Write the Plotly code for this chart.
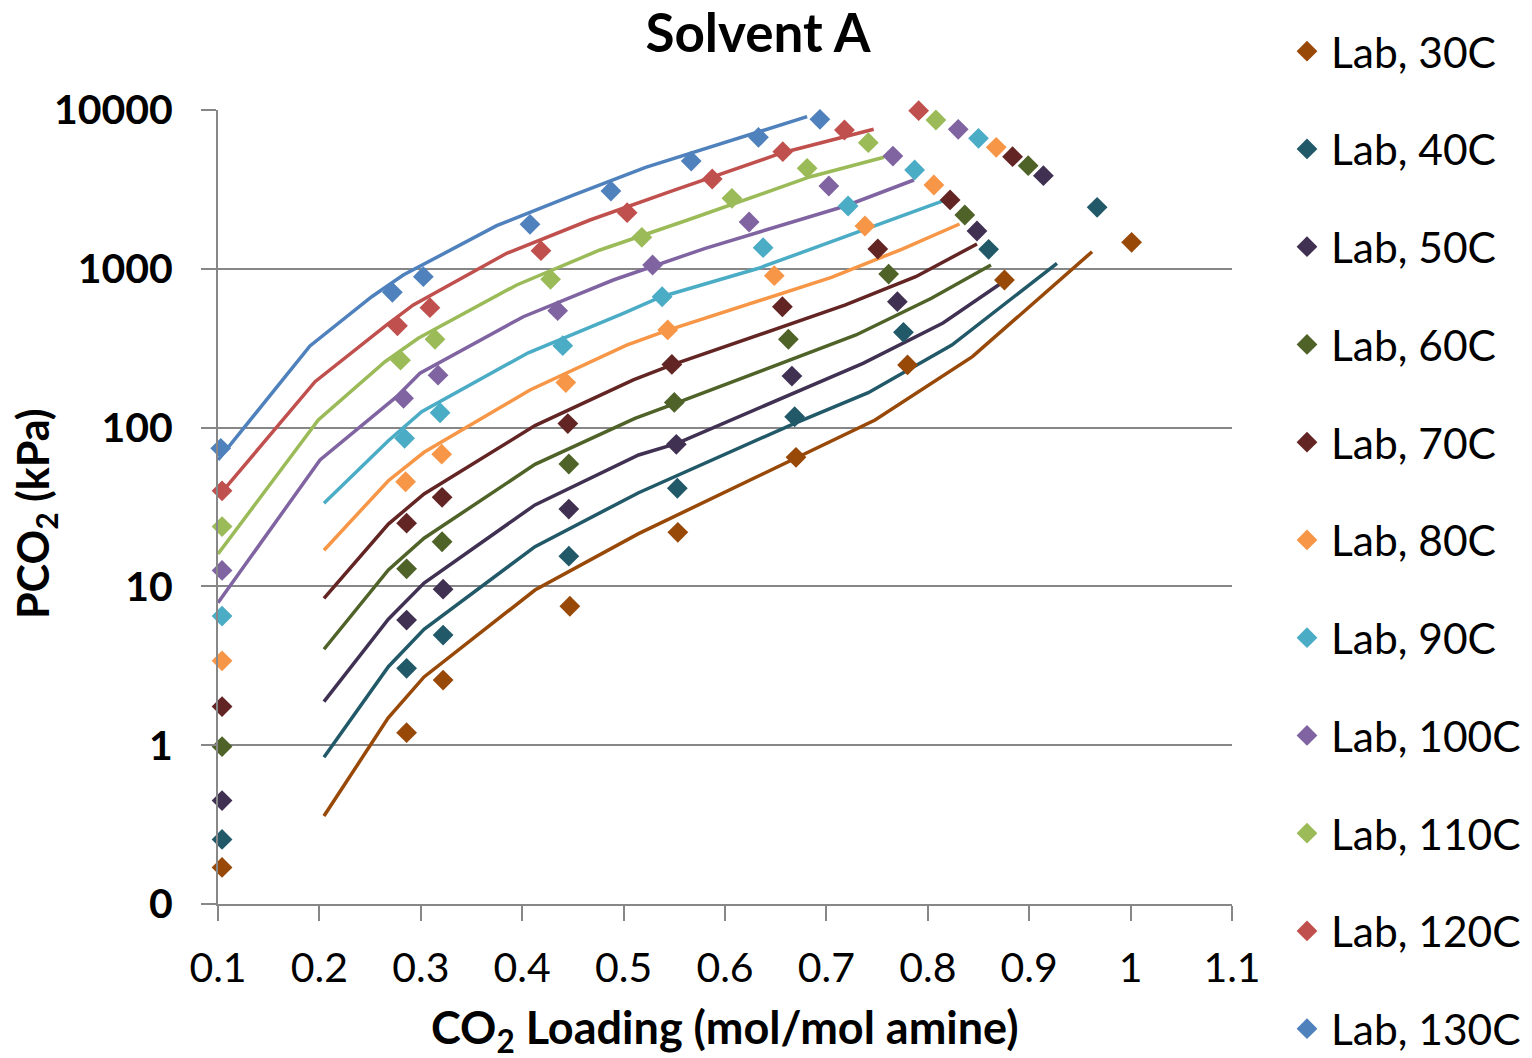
import plotly.graph_objects as go

# ---------------- data ----------------
temps = ["30C", "40C", "50C", "60C", "70C", "80C", "90C", "100C", "110C", "120C", "130C"]
colors = ["#984807", "#215968", "#403152", "#4F6228", "#632523", "#F79646",
          "#4BACC6", "#8064A2", "#9BBB59", "#C0504D", "#4F81BD"]

# Lab (measured) points
lab_x_30 = [0.104, 0.286, 0.322, 0.447, 0.5535, 0.670, 0.780, 0.8756, 1.001]
lab_y_30 = [0.170, 1.2, 2.57, 7.5, 21.9, 65, 248, 850, 1469]
lab_x_40 = [0.104, 0.286, 0.322, 0.446, 0.553, 0.6687, 0.776, 0.860, 0.967]
lab_y_40 = [0.255, 3.05, 4.94, 15.5, 41.5, 117, 398, 1327, 2440]
lab_x_50 = [0.104, 0.286, 0.322, 0.446, 0.552, 0.666, 0.770, 0.8485, 0.914]
lab_y_50 = [0.448, 6.14, 9.6, 30.7, 78.5, 211, 621, 1730, 3857]
lab_x_60 = [0.104, 0.286, 0.321, 0.446, 0.550, 0.6625, 0.7614, 0.8365, 0.899]
lab_y_60 = [0.98, 12.9, 19.1, 59, 144, 360, 927, 2181, 4460]
lab_x_70 = [0.104, 0.286, 0.321, 0.445, 0.5476, 0.6566, 0.7507, 0.822, 0.8836]
lab_y_70 = [1.75, 25, 36.4, 106, 250, 577, 1333, 2713, 5080]
lab_x_80 = [0.104, 0.285, 0.3206, 0.443, 0.5435, 0.6486, 0.738, 0.806, 0.8675]
lab_y_80 = [3.4, 45.6, 68, 192, 412, 905, 1860, 3371, 5820]
lab_x_90 = [0.104, 0.284, 0.319, 0.440, 0.538, 0.6376, 0.7214, 0.787, 0.850]
lab_y_90 = [6.5, 85.6, 124, 328, 667, 1358, 2486, 4190, 6630]
lab_x_100 = [0.104, 0.283, 0.317, 0.435, 0.5286, 0.6238, 0.7024, 0.7656, 0.830]
lab_y_100 = [12.6, 153, 214, 545, 1057, 1971, 3322, 5130, 7560]
lab_x_110 = [0.104, 0.280, 0.314, 0.428, 0.518, 0.6068, 0.681, 0.7413, 0.808]
lab_y_110 = [23.8, 266, 360, 859, 1579, 2780, 4294, 6225, 8650]
lab_x_120 = [0.104, 0.277, 0.309, 0.4185, 0.5035, 0.5874, 0.657, 0.7178, 0.791]
lab_y_120 = [40, 438, 569, 1300, 2256, 3678, 5462, 7482, 9900]
lab_x_130 = [0.1027, 0.272, 0.3025, 0.4077, 0.4875, 0.5667, 0.633, 0.6936]
lab_y_130 = [74, 711, 892, 1907, 3090, 4770, 6730, 8738]

# Model curves
mod_x_30 = [0.2045, 0.2677, 0.3032, 0.4126, 0.5148, 0.748, 0.844, 0.962]
mod_y_30 = [0.358, 1.48, 2.69, 9.49, 21.5, 111.6, 279.6, 1281]
mod_x_40 = [0.2045, 0.268, 0.3032, 0.4126, 0.5148, 0.6687, 0.7413, 0.8237, 0.9274]
mod_y_40 = [0.84, 3.12, 5.37, 17.8, 38.9, 106.4, 166, 331, 1083]
mod_x_50 = [0.2045, 0.268, 0.3032, 0.4126, 0.5148, 0.5527, 0.7361, 0.815, 0.8712]
mod_y_50 = [1.88, 6.21, 10.5, 32.6, 67.2, 79.6, 254, 456, 802]
mod_x_60 = [0.2045, 0.268, 0.3032, 0.4126, 0.5112, 0.5511, 0.7292, 0.8036, 0.8623]
mod_y_60 = [4.02, 12.7, 20.1, 58.7, 114.4, 142.2, 383, 652, 1057]
mod_x_70 = [0.2045, 0.268, 0.3032, 0.4126, 0.5096, 0.5477, 0.7188, 0.7881, 0.8485]
mod_y_70 = [8.41, 24.7, 38.2, 103, 199.5, 248, 592, 892, 1433]
mod_x_80 = [0.2045, 0.268, 0.3032, 0.4077, 0.503, 0.5424, 0.705, 0.7742, 0.8313]
mod_y_80 = [16.9, 46.3, 69.9, 172.5, 331, 407.6, 884, 1327, 1915]
mod_x_90 = [0.2045, 0.268, 0.3009, 0.406, 0.4997, 0.5373, 0.6323, 0.7396, 0.8157]
mod_y_90 = [33.4, 82.7, 126, 296, 524.5, 667, 1004, 1774, 2684]
mod_x_100 = [0.100, 0.2006, 0.2762, 0.2992, 0.4011, 0.4898, 0.5805, 0.7188, 0.7863]
mod_y_100 = [7.89, 62.5, 156.6, 220, 499, 850, 1346, 2486, 3624]
mod_x_110 = [0.100, 0.1989, 0.2647, 0.2975, 0.3946, 0.4767, 0.5632, 0.6843, 0.7568]
mod_y_110 = [16.0, 111.6, 260, 365, 791, 1314, 2029, 3802, 5038]
mod_x_120 = [0.100, 0.1957, 0.2664, 0.2926, 0.3847, 0.4669, 0.5458, 0.6566, 0.7466]
mod_y_120 = [36.7, 194.5, 443, 592, 1252, 2029, 3059, 5383, 7558]
mod_x_130 = [0.100, 0.1907, 0.2516, 0.2827, 0.3748, 0.4504, 0.5217, 0.6323, 0.681]
mod_y_130 = [62.5, 327, 667, 914, 1868, 2915, 4357, 7300, 9075]

x_tick_vals = [0.1, 0.2, 0.3, 0.4, 0.5, 0.6, 0.7, 0.8, 0.9, 1.0, 1.1]
x_tick_labels = ["0.1", "0.2", "0.3", "0.4", "0.5", "0.6", "0.7", "0.8", "0.9", "1", "1.1"]
y_tick_vals = [0.1, 1, 10, 100, 1000, 10000]
y_tick_labels = ["0", "1", "10", "100", "1000", "10000"]

lab_x = [lab_x_30, lab_x_40, lab_x_50, lab_x_60, lab_x_70, lab_x_80,
         lab_x_90, lab_x_100, lab_x_110, lab_x_120, lab_x_130]
lab_y = [lab_y_30, lab_y_40, lab_y_50, lab_y_60, lab_y_70, lab_y_80,
         lab_y_90, lab_y_100, lab_y_110, lab_y_120, lab_y_130]
mod_x = [mod_x_30, mod_x_40, mod_x_50, mod_x_60, mod_x_70, mod_x_80,
         mod_x_90, mod_x_100, mod_x_110, mod_x_120, mod_x_130]
mod_y = [mod_y_30, mod_y_40, mod_y_50, mod_y_60, mod_y_70, mod_y_80,
         mod_y_90, mod_y_100, mod_y_110, mod_y_120, mod_y_130]

FONT = "Lato"
GRID = "#878787"

fig = go.Figure()

for i, t in enumerate(temps):
    fig.add_trace(go.Scatter(
        x=mod_x[i], y=mod_y[i], mode="lines",
        line=dict(color=colors[i], width=3.5),
        name="Model, " + t, showlegend=False, hoverinfo="skip"))

for i, t in enumerate(temps):
    fig.add_trace(go.Scatter(
        x=lab_x[i], y=lab_y[i], mode="markers", cliponaxis=False,
        marker=dict(symbol="diamond", size=16, color=colors[i], line=dict(width=0)),
        name="Lab, " + t, legendgroup=t))

fig.update_layout(
    width=1532, height=1058,
    margin=dict(l=218, r=300, t=110, b=154, autoexpand=False),
    paper_bgcolor="white", plot_bgcolor="white",
    font=dict(family=FONT, color="black"),
    title=dict(text="Solvent A", x=758 / 1532, xref="container", xanchor="center",
               y=1 - 33 / 1058, yref="container", yanchor="middle",
               font=dict(family=FONT, size=53, weight="bold", color="black")),
    legend=dict(x=(1283 - 218) / 1014, xanchor="left", y=1 + (110 - 17) / 794, yanchor="top",
                font=dict(family=FONT, size=42.5, color="black"),
                itemwidth=38, tracegroupgap=39.5, maxheight=1100,
                bgcolor="rgba(0,0,0,0)", borderwidth=0),
    showlegend=True,
    annotations=[
        dict(text="CO<sub>2</sub> Loading (mol/mol amine)", xref="paper", yref="paper",
             x=0.5, y=(904 - 1030) / 794, xanchor="center", yanchor="middle",
             showarrow=False,
             font=dict(family=FONT, size=45, weight="bold", color="black")),
        dict(text="PCO<sub>2</sub> (kPa)", xref="paper", yref="paper",
             x=(35 - 218) / 1014, y=(904 - 514) / 794, xanchor="center", yanchor="middle",
             textangle=-90, showarrow=False,
             font=dict(family=FONT, size=43, weight="bold", color="black")),
    ],
)

fig.update_xaxes(
    range=[0.1, 1.1], tickvals=x_tick_vals, ticktext=x_tick_labels,
    showgrid=False, zeroline=False,
    showline=True, linecolor=GRID, linewidth=2,
    ticks="outside", ticklen=15, tickwidth=2, tickcolor=GRID,
    tickfont=dict(family=FONT, size=41, color="black"),
    ticklabelstandoff=12,
)
fig.update_yaxes(
    type="log", range=[-1, 4], tickvals=y_tick_vals, ticktext=y_tick_labels,
    showgrid=True, gridcolor=GRID, gridwidth=2, zeroline=False,
    showline=True, linecolor=GRID, linewidth=2,
    ticks="outside", ticklen=15, tickwidth=2, tickcolor=GRID,
    tickfont=dict(family=FONT, size=41, weight="bold", color="black"),
    ticklabelstandoff=20,
)

fig.write_html("out.html", config={"displayModeBar": False},
               post_script="document.body.style.margin='0';")
